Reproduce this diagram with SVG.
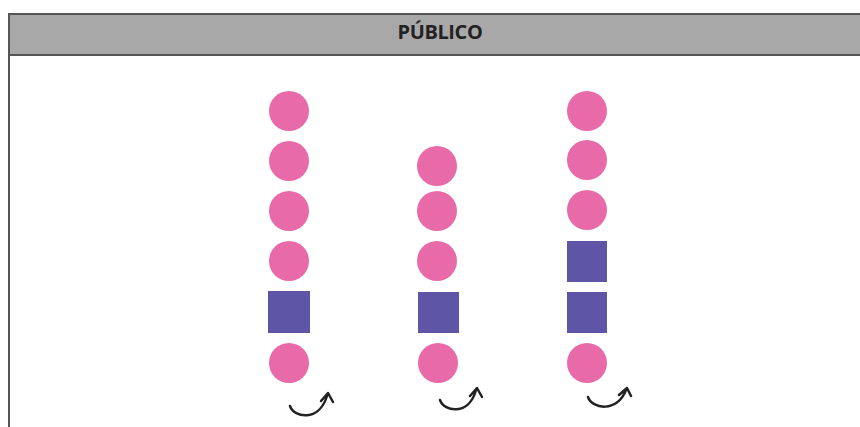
<svg xmlns="http://www.w3.org/2000/svg" width="860" height="427" viewBox="0 0 860 427">
<style>
.c{fill:#E96AA8}
.s{fill:#5F55A6}
.a{fill:none;stroke:#222;stroke-width:2.5;stroke-linecap:round;stroke-linejoin:round}
.t{font-family:"Open Sans","Liberation Sans",sans-serif;font-weight:bold;font-size:20px;fill:#222;letter-spacing:-0.4px}
</style>
<rect width="860" height="427" fill="#fff"/>
<g id="header">
<rect x="9" y="14" width="860" height="41" fill="#A8A8A8" stroke="#555" stroke-width="2"/>
<line x1="9" y1="55" x2="9" y2="427" stroke="#555" stroke-width="2"/>
<text class="t" x="440" y="39" text-anchor="middle">PÚBLICO</text>
</g>
<g id="col1">
<circle class="c" cx="289" cy="111" r="20"/>
<circle class="c" cx="289" cy="161" r="20"/>
<circle class="c" cx="289" cy="211" r="20"/>
<circle class="c" cx="289" cy="261" r="20"/>
<rect class="s" x="268" y="291" width="42" height="42"/>
<circle class="c" cx="289" cy="363" r="20"/>
</g>
<g id="col2">
<circle class="c" cx="437" cy="166" r="20"/>
<circle class="c" cx="437" cy="211" r="20"/>
<circle class="c" cx="437" cy="261" r="20"/>
<rect class="s" x="418" y="292" width="41" height="41"/>
<circle class="c" cx="438" cy="363" r="20"/>
</g>
<g id="col3">
<circle class="c" cx="587" cy="111" r="20"/>
<circle class="c" cx="587" cy="160" r="20"/>
<circle class="c" cx="587" cy="210" r="20"/>
<rect class="s" x="567" y="241" width="40" height="41"/>
<rect class="s" x="567" y="292" width="40" height="41"/>
<circle class="c" cx="587" cy="363" r="20"/>
</g>
<g id="connectors">
<path class="a" d="M290 406 C294 418 319 422 327 396 M321 401 L328 393 L333 402"/>
<path class="a" d="M440 400 C444 412 469 416 476 390 M470 396 L477 388 L482 397"/>
<path class="a" d="M588 397 C592 409 617 413 626 390 M619 395 L627 388 L631 396"/>
</g>
</svg>
